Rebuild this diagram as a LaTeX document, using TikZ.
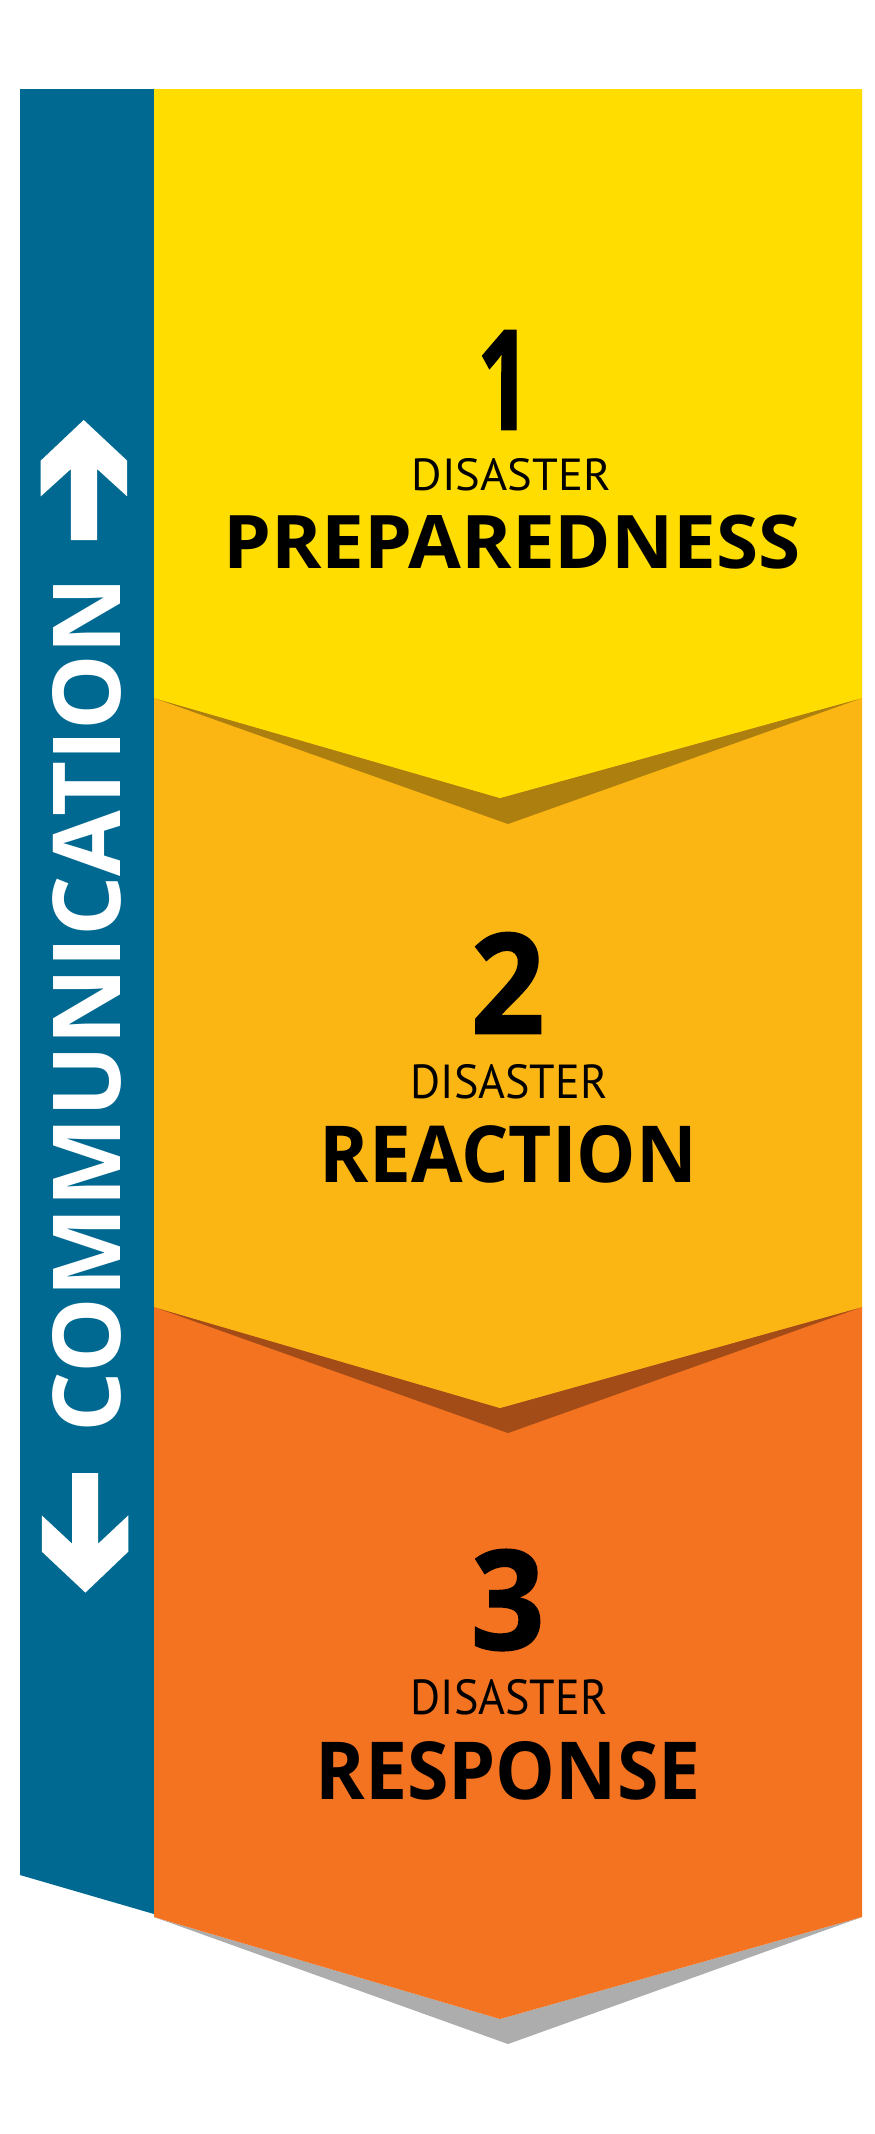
\documentclass[tikz,border=0pt]{standalone}
\usepackage{fontspec}
\setmainfont{Open Sans}
\newfontfamily\dfont{PT Sans}
\newfontfamily\numfont[FakeBold=1.2]{Open Sans Bold}
\usepackage{graphicx}
\definecolor{commblue}{HTML}{006991}
\definecolor{cyellow}{HTML}{FFDD00}
\definecolor{camber}{HTML}{FCB614}
\definecolor{corange}{HTML}{F37321}
\definecolor{shyellow}{HTML}{AD7F0E}
\definecolor{shamber}{HTML}{A44C17}
\definecolor{shgray}{HTML}{ADADAD}
\newcommand{\fitbox}[3]{\resizebox{#1pt}{#2pt}{#3}}
\tikzset{
  lbl/.style={inner sep=0pt, outer sep=0pt, text=black},
  wlbl/.style={inner sep=0pt, outer sep=0pt, text=white}
}
\begin{document}
\begin{tikzpicture}[x=1pt,y=-1pt]
\fill[white] (0,0) rectangle (875,2134);
\useasboundingbox (0,0) rectangle (875,2134);
% blue bar
\fill[commblue] (20,89) -- (154,89) -- (154,1914) -- (20,1875) -- cycle;
% chevron 3
\fill[shgray] (154,1917) -- (508,2044) -- (862,1917) -- (500,2019) -- cycle;
\fill[corange] (154,1307) -- (862,1307) -- (862,1917) -- (500,2019) -- (154,1917) -- cycle;
% chevron 2
\fill[shamber] (154,1307) -- (508,1433) -- (862,1307) -- (500,1408) -- cycle;
\fill[camber] (154,698) -- (862,698) -- (862,1307) -- (500,1408) -- (154,1307) -- cycle;
% chevron 1
\fill[shyellow] (154,698) -- (508,824) -- (862,698) -- (500,798) -- cycle;
\fill[cyellow] (154,89) -- (862,89) -- (862,698) -- (500,798) -- (154,698) -- cycle;
% arrows
\fill[white] (83.7,420) -- (127.2,460.7) -- (127.2,496.4) -- (97.1,469) -- (97.1,540)
  -- (70.9,540) -- (70.9,469) -- (40.7,496.4) -- (40.7,460.7) -- cycle;
\fill[white] (72,1473) -- (98.2,1473) -- (98.2,1543.6) -- (128.3,1515.4) -- (128.3,1551.6)
  -- (85.4,1592.6) -- (41.8,1551.6) -- (41.8,1515.4) -- (72,1543.6) -- cycle;
% communication
\node[wlbl, rotate=90] (comm) at (86.5,1004.5) {\fitbox{855}{68}{\bfseries COMMUNICATION}};
% texts
\node[lbl] (n1) at (504,380) {\fitbox{54}{99}{\numfont 1}};
\node[lbl] (d1) at (511.4,475) {\fitbox{199}{32}{\dfont DISASTER}};
\node[lbl] (t1) at (512,542.3) {\fitbox{577.6}{53.5}{\bfseries PREPAREDNESS}};
\node[lbl] (n2) at (507.7,983) {\fitbox{73.7}{101}{\numfont 2}};
\node[lbl] (d2) at (509,1082) {\fitbox{197}{34}{\dfont DISASTER}};
\node[lbl] (t2) at (508.5,1154) {\fitbox{377}{57}{\bfseries REACTION}};
\node[lbl] (n3) at (507.7,1600) {\fitbox{73.7}{100}{\numfont 3}};
\node[lbl] (d3) at (509,1697.5) {\fitbox{197}{35}{\dfont DISASTER}};
\node[lbl] (t3) at (508,1771) {\fitbox{385}{58}{\bfseries RESPONSE}};
\end{tikzpicture}
\end{document}
